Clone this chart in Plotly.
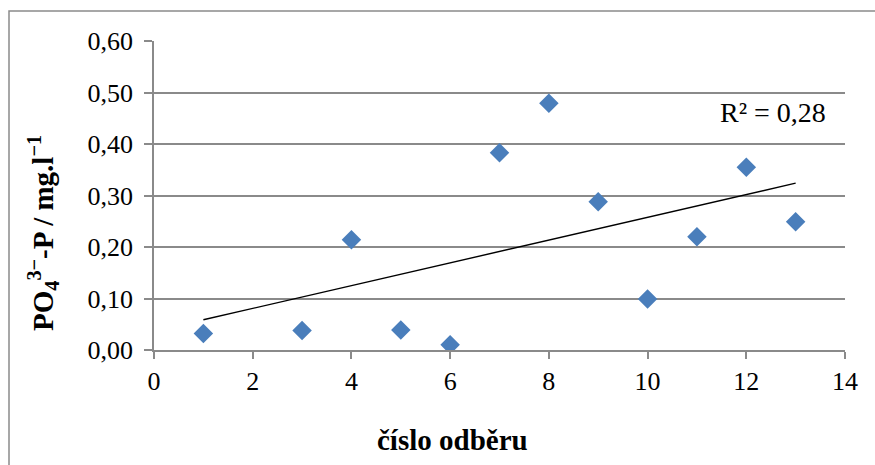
import numpy as np
import plotly.graph_objects as go

# Data
sample_no = [1, 3, 4, 5, 6, 7, 8, 9, 10, 11, 12, 13]
po4_p = [0.032, 0.038, 0.214, 0.039, 0.010, 0.383, 0.479, 0.288, 0.099, 0.220, 0.355, 0.249]
x_ticks = [0, 2, 4, 6, 8, 10, 12, 14]
y_ticks = [0.0, 0.1, 0.2, 0.3, 0.4, 0.5, 0.6]

x_arr = np.array(sample_no, dtype=float)
y_arr = np.array(po4_p, dtype=float)
slope, intercept = np.polyfit(x_arr, y_arr, 1)
fit_x = [min(sample_no), max(sample_no)]
fit_y = [slope * v + intercept for v in fit_x]
pred = slope * x_arr + intercept
r2 = 1 - np.sum((y_arr - pred) ** 2) / np.sum((y_arr - y_arr.mean()) ** 2)
r2_text = "R² = " + f"{r2:.2f}".replace(".", ",")

FONT = "Liberation Serif, Times New Roman, serif"
GRID = "#8a8a8a"

fig = go.Figure()
fig.add_trace(go.Scatter(
    x=sample_no, y=po4_p, mode="markers",
    marker=dict(symbol="diamond", size=15, color="#4A7EBB", line=dict(width=0)),
    showlegend=False, hoverinfo="skip"))
fig.add_trace(go.Scatter(
    x=fit_x, y=fit_y, mode="lines",
    line=dict(color="black", width=1.4),
    showlegend=False, hoverinfo="skip"))

L, R, T, B = 154, 30, 41, 115
W, H = 875, 465
pw, ph = W - L - R, H - T - B

fig.update_layout(
    width=W, height=H,
    margin=dict(l=L, r=R, t=T, b=B),
    paper_bgcolor="white", plot_bgcolor="white",
    separators=", ",
    font=dict(family=FONT, color="black", size=26),
    xaxis=dict(range=[0, 14], tickvals=x_ticks, showgrid=False, zeroline=False,
               showline=True, linecolor=GRID, linewidth=1.5,
               ticks="outside", ticklen=7, tickcolor=GRID, tickwidth=1.5,
               tickfont=dict(size=26, family=FONT)),
    yaxis=dict(range=[0, 0.6], tickvals=y_ticks, tickformat=".2f",
               showgrid=True, gridcolor=GRID, gridwidth=1.5, zeroline=False,
               showline=True, linecolor=GRID, linewidth=1.5,
               ticks="outside", ticklen=8, tickcolor=GRID, tickwidth=1.5,
               ticklabelstandoff=6,
               tickfont=dict(size=26, family=FONT)),
    annotations=[
        dict(text=r2_text, xref="paper", yref="paper",
             x=(773 - L) / pw, y=(H - B - 112) / ph, xanchor="center", yanchor="middle",
             showarrow=False, font=dict(size=28, family=FONT)),
        dict(text="<b>číslo odběru</b>", xref="paper", yref="paper",
             x=(452 - L) / pw, y=(H - B - 440) / ph, xanchor="center", yanchor="middle",
             showarrow=False, font=dict(size=29, family=FONT)),
        dict(text="<b>PO<sub>4</sub><sup>3−</sup>-P / mg.l<sup>−1</sup></b>",
             xref="paper", yref="paper", textangle=-90,
             x=(43 - L) / pw, y=(H - B - 233) / ph, xanchor="center", yanchor="middle",
             showarrow=False, font=dict(size=29, family=FONT)),
    ],
    shapes=[dict(type="rect", xref="paper", yref="paper",
                 x0=(9 - L) / pw, x1=(W + 10 - L) / pw,
                 y0=(H - B - (H + 10)) / ph, y1=(H - B - 11) / ph,
                 line=dict(color="#8a8a8a", width=1.5), fillcolor="rgba(0,0,0,0)",
                 layer="below")],
)

fig.write_html("out.html")
